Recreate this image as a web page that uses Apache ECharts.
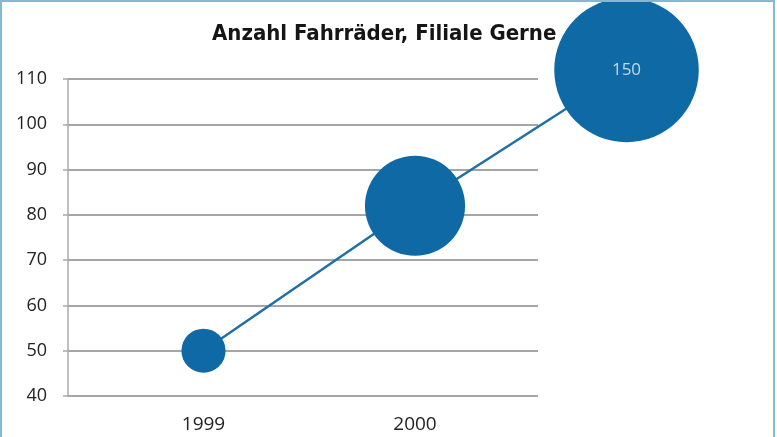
<!DOCTYPE html>
<html>
<head>
<meta charset="utf-8">
<script src="https://cdn.jsdelivr.net/npm/echarts@6/dist/echarts.min.js"></script>
<style>
html,body{margin:0;padding:0;background:#fff;}
#wrap{position:relative;width:777px;height:437px;overflow:hidden;}
#chart{position:absolute;left:0;top:0;width:777px;height:437px;}
#frame{position:absolute;left:0;top:0;width:771px;height:460px;border:2px solid #86b8d2;pointer-events:none;}
</style>
</head>
<body>
<div id="wrap"><div id="chart"></div><div id="frame"></div></div>
<script>
// Data
var titleText = 'Anzahl Fahrräder, Filiale Gerne';
var years = [1999, 2000, 2001];
var yearLabels = [1999, 2000];
var values = [50, 82, 112];
var sizes = [14, 72, 150];
var yTicks = [40, 50, 60, 70, 80, 90, 100, 110];

var blue = '#0f69a5';
var chart = echarts.init(document.getElementById('chart'));
var pts = years.map(function (y, i) { return [y, values[i], sizes[i]]; });

var pxPerYear = 211.5;
var xMin = 1998.3593;
var gridTop = 79, gridBottomPx = 396, gridLeft = 68, gridRight = 538;
var pxPerUnit = (gridBottomPx - gridTop) / 70;
var font = '"Open Sans", "Noto Sans", sans-serif';

chart.setOption({
  animation: false,
  title: {
    text: titleText,
    left: 207, top: 18,
    textStyle: { fontFamily: '"Liberation Sans Narrow", "DejaVu Sans Condensed", sans-serif', fontWeight: 'bold', fontSize: 22, color: '#151515' }
  },
  grid: [
    { left: gridLeft, right: 777 - gridRight, top: gridTop, bottom: 437 - gridBottomPx },
    { left: gridLeft, right: 77, top: gridTop - 10 * pxPerUnit, bottom: 437 - gridBottomPx }
  ],
  xAxis: [{
    type: 'value', gridIndex: 0,
    min: xMin, max: xMin + (gridRight - gridLeft) / pxPerYear,
    axisLine: { show: false },
    axisTick: { show: false },
    splitLine: { show: false },
    axisLabel: {
      customValues: yearLabels,
      margin: 19,
      fontSize: 19,
      color: '#222',
      fontFamily: font,
      formatter: function (v) { return String(Math.round(v)); }
    }
  }, {
    type: 'value', gridIndex: 1, show: false,
    min: xMin, max: xMin + (777 - 77 - gridLeft) / pxPerYear,
    splitLine: { show: false }
  }],
  yAxis: [{
    type: 'value', gridIndex: 0,
    min: yTicks[0], max: yTicks[yTicks.length - 1], interval: 10,
    axisLine: { show: true, lineStyle: { color: '#a8a8a8', width: 1.5 } },
    axisTick: { show: true, length: 5, lineStyle: { color: '#a8a8a8', width: 1.5 } },
    splitLine: { show: true, lineStyle: { color: '#a5a5a5', width: 2 } },
    axisLabel: { margin: 21, fontSize: 18, color: '#222', fontFamily: font }
  }, {
    type: 'value', gridIndex: 1, show: false,
    min: yTicks[0], max: yTicks[yTicks.length - 1] + 10,
    splitLine: { show: false }
  }],
  series: [
    {
      type: 'line', xAxisIndex: 1, yAxisIndex: 1,
      data: pts,
      clip: false,
      symbol: 'none',
      lineStyle: { color: '#1f6fa8', width: 2.5 },
      z: 2
    },
    {
      type: 'scatter', xAxisIndex: 1, yAxisIndex: 1,
      data: pts,
      clip: false,
      symbolSize: function (d) { return Math.sqrt(d[2]) * 11.8; },
      itemStyle: { color: blue, opacity: 1 },
      label: {
        show: true,
        position: 'inside',
        formatter: function (p) { return p.dataIndex === 2 ? String(p.data[2]) : ''; },
        color: '#c5d9ea',
        fontSize: 17,
        fontFamily: font
      },
      z: 3
    }
  ]
});
</script>
</body>
</html>
